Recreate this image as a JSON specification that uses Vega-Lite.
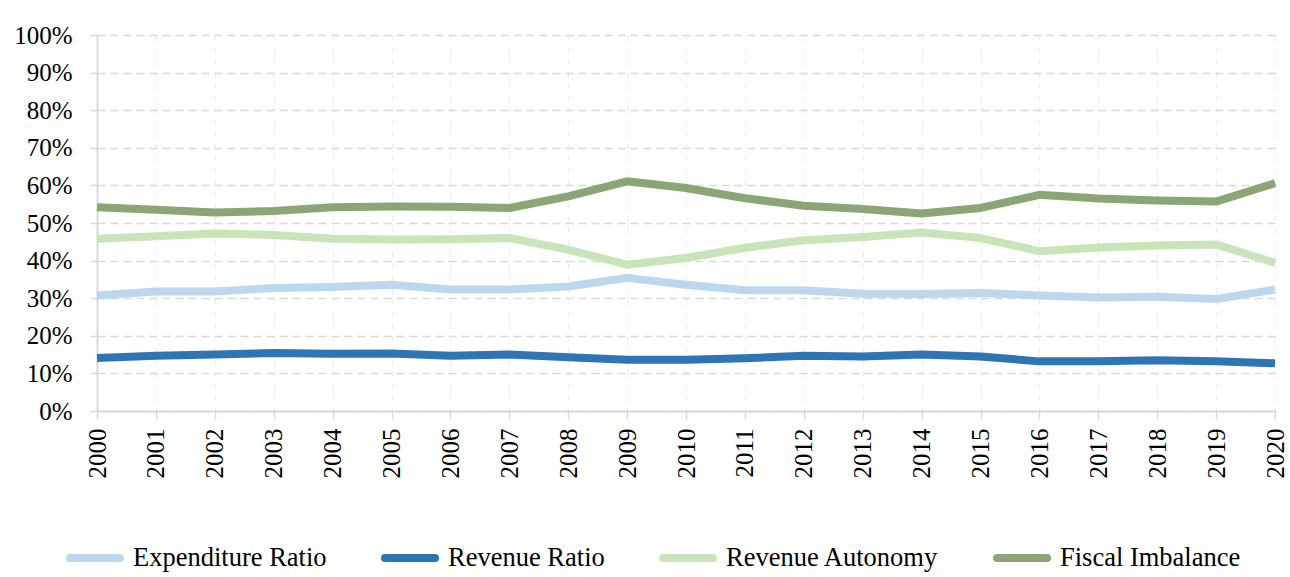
{
  "$schema": "https://vega.github.io/schema/vega-lite/v6.json",
  "width": 1178,
  "height": 376,
  "autosize": {"type": "none"},
  "padding": {"left": 97, "top": 35, "right": 15, "bottom": 166},
  "background": "white",
  "config": {
    "view": {"stroke": null},
    "font": "Liberation Serif",
    "axis": {"labelFont": "Liberation Serif", "labelFontSize": 25, "labelColor": "#000000"},
    "legend": {"labelFont": "Liberation Serif", "labelFontSize": 26.5, "labelColor": "#000000", "labelLimit": 0}
  },
  "data": {
    "values": [
      {"year": "2000", "series": "Expenditure Ratio", "value": 30.7},
      {"year": "2001", "series": "Expenditure Ratio", "value": 31.8},
      {"year": "2002", "series": "Expenditure Ratio", "value": 31.8},
      {"year": "2003", "series": "Expenditure Ratio", "value": 32.7},
      {"year": "2004", "series": "Expenditure Ratio", "value": 33.0},
      {"year": "2005", "series": "Expenditure Ratio", "value": 33.6},
      {"year": "2006", "series": "Expenditure Ratio", "value": 32.3},
      {"year": "2007", "series": "Expenditure Ratio", "value": 32.3},
      {"year": "2008", "series": "Expenditure Ratio", "value": 33.1},
      {"year": "2009", "series": "Expenditure Ratio", "value": 35.4},
      {"year": "2010", "series": "Expenditure Ratio", "value": 33.6},
      {"year": "2011", "series": "Expenditure Ratio", "value": 32.1},
      {"year": "2012", "series": "Expenditure Ratio", "value": 32.1},
      {"year": "2013", "series": "Expenditure Ratio", "value": 31.2},
      {"year": "2014", "series": "Expenditure Ratio", "value": 31.1},
      {"year": "2015", "series": "Expenditure Ratio", "value": 31.4},
      {"year": "2016", "series": "Expenditure Ratio", "value": 30.7},
      {"year": "2017", "series": "Expenditure Ratio", "value": 30.2},
      {"year": "2018", "series": "Expenditure Ratio", "value": 30.4},
      {"year": "2019", "series": "Expenditure Ratio", "value": 29.8},
      {"year": "2020", "series": "Expenditure Ratio", "value": 32.3},
      {"year": "2000", "series": "Revenue Ratio", "value": 14.1},
      {"year": "2001", "series": "Revenue Ratio", "value": 14.7},
      {"year": "2002", "series": "Revenue Ratio", "value": 15.0},
      {"year": "2003", "series": "Revenue Ratio", "value": 15.4},
      {"year": "2004", "series": "Revenue Ratio", "value": 15.2},
      {"year": "2005", "series": "Revenue Ratio", "value": 15.3},
      {"year": "2006", "series": "Revenue Ratio", "value": 14.7},
      {"year": "2007", "series": "Revenue Ratio", "value": 15.0},
      {"year": "2008", "series": "Revenue Ratio", "value": 14.3},
      {"year": "2009", "series": "Revenue Ratio", "value": 13.6},
      {"year": "2010", "series": "Revenue Ratio", "value": 13.6},
      {"year": "2011", "series": "Revenue Ratio", "value": 14.0},
      {"year": "2012", "series": "Revenue Ratio", "value": 14.7},
      {"year": "2013", "series": "Revenue Ratio", "value": 14.5},
      {"year": "2014", "series": "Revenue Ratio", "value": 15.0},
      {"year": "2015", "series": "Revenue Ratio", "value": 14.5},
      {"year": "2016", "series": "Revenue Ratio", "value": 13.2},
      {"year": "2017", "series": "Revenue Ratio", "value": 13.2},
      {"year": "2018", "series": "Revenue Ratio", "value": 13.5},
      {"year": "2019", "series": "Revenue Ratio", "value": 13.2},
      {"year": "2020", "series": "Revenue Ratio", "value": 12.7},
      {"year": "2000", "series": "Revenue Autonomy", "value": 45.8},
      {"year": "2001", "series": "Revenue Autonomy", "value": 46.5},
      {"year": "2002", "series": "Revenue Autonomy", "value": 47.2},
      {"year": "2003", "series": "Revenue Autonomy", "value": 46.8},
      {"year": "2004", "series": "Revenue Autonomy", "value": 45.8},
      {"year": "2005", "series": "Revenue Autonomy", "value": 45.6},
      {"year": "2006", "series": "Revenue Autonomy", "value": 45.7},
      {"year": "2007", "series": "Revenue Autonomy", "value": 46.0},
      {"year": "2008", "series": "Revenue Autonomy", "value": 42.9},
      {"year": "2009", "series": "Revenue Autonomy", "value": 38.9},
      {"year": "2010", "series": "Revenue Autonomy", "value": 40.7},
      {"year": "2011", "series": "Revenue Autonomy", "value": 43.4},
      {"year": "2012", "series": "Revenue Autonomy", "value": 45.4},
      {"year": "2013", "series": "Revenue Autonomy", "value": 46.3},
      {"year": "2014", "series": "Revenue Autonomy", "value": 47.5},
      {"year": "2015", "series": "Revenue Autonomy", "value": 46.0},
      {"year": "2016", "series": "Revenue Autonomy", "value": 42.5},
      {"year": "2017", "series": "Revenue Autonomy", "value": 43.5},
      {"year": "2018", "series": "Revenue Autonomy", "value": 44.0},
      {"year": "2019", "series": "Revenue Autonomy", "value": 44.3},
      {"year": "2020", "series": "Revenue Autonomy", "value": 39.4},
      {"year": "2000", "series": "Fiscal Imbalance", "value": 54.2},
      {"year": "2001", "series": "Fiscal Imbalance", "value": 53.5},
      {"year": "2002", "series": "Fiscal Imbalance", "value": 52.8},
      {"year": "2003", "series": "Fiscal Imbalance", "value": 53.2},
      {"year": "2004", "series": "Fiscal Imbalance", "value": 54.2},
      {"year": "2005", "series": "Fiscal Imbalance", "value": 54.4},
      {"year": "2006", "series": "Fiscal Imbalance", "value": 54.3},
      {"year": "2007", "series": "Fiscal Imbalance", "value": 54.0},
      {"year": "2008", "series": "Fiscal Imbalance", "value": 57.1},
      {"year": "2009", "series": "Fiscal Imbalance", "value": 61.1},
      {"year": "2010", "series": "Fiscal Imbalance", "value": 59.3},
      {"year": "2011", "series": "Fiscal Imbalance", "value": 56.6},
      {"year": "2012", "series": "Fiscal Imbalance", "value": 54.6},
      {"year": "2013", "series": "Fiscal Imbalance", "value": 53.7},
      {"year": "2014", "series": "Fiscal Imbalance", "value": 52.5},
      {"year": "2015", "series": "Fiscal Imbalance", "value": 54.0},
      {"year": "2016", "series": "Fiscal Imbalance", "value": 57.5},
      {"year": "2017", "series": "Fiscal Imbalance", "value": 56.5},
      {"year": "2018", "series": "Fiscal Imbalance", "value": 56.0},
      {"year": "2019", "series": "Fiscal Imbalance", "value": 55.7},
      {"year": "2020", "series": "Fiscal Imbalance", "value": 60.6}
    ]
  },
  "mark": {"type": "line", "strokeWidth": 8, "strokeJoin": "round", "strokeCap": "butt"},
  "encoding": {
    "x": {
      "field": "year",
      "type": "ordinal",
      "scale": {"type": "point", "padding": 0},
      "axis": {
        "title": null,
        "labelAngle": -90,
        "labelPadding": 9,
        "tickSize": 8,
        "tickColor": "#d9d9d9",
        "tickWidth": 1.5,
        "domainColor": "#d9d9d9",
        "domainWidth": 2,
        "grid": true,
        "gridColor": "#ececec",
        "gridDash": [6, 6],
        "gridWidth": 1
      }
    },
    "y": {
      "field": "value",
      "type": "quantitative",
      "scale": {"domain": [0, 100], "nice": false},
      "axis": {
        "title": null,
        "values": [0, 10, 20, 30, 40, 50, 60, 70, 80, 90, 100],
        "labelExpr": "datum.value + '%'",
        "labelPadding": 18,
        "tickSize": 7,
        "tickColor": "#d9d9d9",
        "tickWidth": 1.5,
        "domainColor": "#d9d9d9",
        "domainWidth": 2,
        "grid": true,
        "gridColor": "#d9d9d9",
        "gridDash": [8, 5],
        "gridWidth": 1.5
      }
    },
    "color": {
      "field": "series",
      "type": "nominal",
      "scale": {
        "domain": ["Expenditure Ratio", "Revenue Ratio", "Revenue Autonomy", "Fiscal Imbalance"],
        "range": ["#bdd7ee", "#2e75b6", "#c9e4b9", "#8ba577"]
      },
      "legend": {
        "title": null,
        "orient": "none",
        "direction": "horizontal",
        "legendX": -31,
        "legendY": 494,
        "padding": 0,
        "symbolType": "stroke",
        "symbolSize": 2500,
        "symbolStrokeWidth": 8,
        "labelOffset": 9,
        "columnPadding": 42,
        "encode": {"symbols": {"update": {"strokeCap": {"value": "round"}}}}
      }
    }
  }
}
